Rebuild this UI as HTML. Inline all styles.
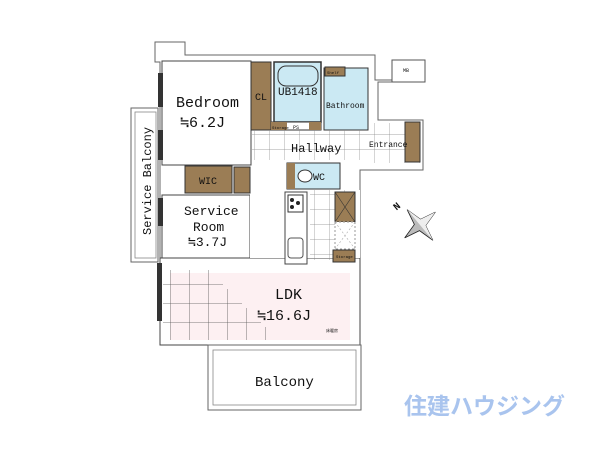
<!DOCTYPE html>
<html><head><meta charset="utf-8"><style>
html,body{margin:0;padding:0;background:#fff;width:600px;height:450px;overflow:hidden}
svg{display:block}
text{font-family:"Liberation Mono","DejaVu Sans Mono",monospace;fill:#111}
</style></head><body>
<svg width="600" height="450" viewBox="0 0 600 450" xmlns="http://www.w3.org/2000/svg">
<defs>
<pattern id="tile" width="15" height="15" patternUnits="userSpaceOnUse"><path d="M15 0V15H0" fill="none" stroke="#888" stroke-width="0.7"/></pattern>
<pattern id="tile2" width="19" height="19" patternUnits="userSpaceOnUse"><path d="M19 0V19H0" fill="none" stroke="#555" stroke-width="0.8"/></pattern>
</defs>
<path d="M155 42H185V55H375V80H392V60H425V82H378V120H423V170H360V345H208V345H160V62H155Z" fill="#fff" stroke="#666" stroke-width="1"/>
<rect x="131" y="108" width="27" height="154" fill="#fff" stroke="#666" stroke-width="1"/>
<rect x="135" y="112" width="21" height="146" fill="none" stroke="#888" stroke-width="0.8"/>
<text x="0" y="0" font-size="12" transform="translate(151,235) rotate(-90)">Service Balcony</text>
<rect x="162" y="61" width="89" height="104" fill="#fff" stroke="#444" stroke-width="1"/>
<rect x="162" y="195" width="88" height="63" fill="#fff" stroke="#444" stroke-width="1"/>
<rect x="160" y="258" width="200" height="87" fill="#fff" stroke="#444" stroke-width="1"/>
<rect x="170" y="273" width="180" height="67" fill="#fdf0f2"/>
<rect x="163" y="270" width="60" height="70" fill="url(#tile2)"/>
<rect x="223" y="289" width="19" height="51" fill="url(#tile2)"/>
<rect x="242" y="308" width="19" height="32" fill="url(#tile2)"/>
<rect x="261" y="327" width="19" height="13" fill="url(#tile2)"/>
<rect x="250" y="190" width="110" height="68" fill="#fff"/>
<rect x="310" y="190" width="40" height="70" fill="url(#tile)"/>
<rect x="285" y="192" width="22" height="72" fill="#fff" stroke="#444" stroke-width="1"/>
<rect x="288" y="195" width="15" height="17" fill="#fff" stroke="#333"/>
<circle cx="292" cy="200" r="2" fill="#222"/><circle cx="298" cy="203" r="2" fill="#222"/><circle cx="292" cy="207" r="2" fill="#222"/>
<rect x="288" y="238" width="15" height="20" rx="3" fill="#fff" stroke="#555"/>
<rect x="335" y="192" width="20" height="30" fill="#9b7d55" stroke="#333"/>
<path d="M335 192L355 222M355 192L335 222" stroke="#333" stroke-width="0.6"/>
<rect x="335" y="222" width="20" height="27" fill="#fff" stroke="#999" stroke-dasharray="2 2"/>
<path d="M335 222L355 249M355 222L335 249" stroke="#aaa" stroke-width="0.6" stroke-dasharray="2 2"/>
<rect x="333" y="250" width="22" height="12" fill="#9b7d55" stroke="#333"/>
<text x="336" y="258" font-size="4">Storage</text>
<text x="326" y="332" font-size="4">床暖房</text>
<rect x="251" y="62" width="20" height="68" fill="#9b7d55" stroke="#333"/>
<text x="255" y="100" font-size="10">CL</text>
<rect x="274" y="62" width="47" height="60" fill="#cbe9f3" stroke="#333" stroke-width="1.5"/>
<rect x="278" y="66" width="40" height="20" rx="8" fill="#cbe9f3" stroke="#333"/>
<text x="278" y="95" font-size="11">UB1418</text>
<rect x="324" y="68" width="44" height="62" fill="#cbe9f3" stroke="#333"/>
<rect x="325" y="67" width="20" height="9" fill="#9b7d55" stroke="#333"/>
<text x="327" y="74" font-size="4">Shelf</text>
<text x="326" y="108" font-size="8">Bathroom</text>
<rect x="271" y="122" width="50" height="8" fill="#fff" stroke="#333"/>
<rect x="271" y="122" width="16" height="8" fill="#9b7d55"/><rect x="309" y="122" width="12" height="8" fill="#9b7d55"/>
<text x="272" y="129" font-size="4">Storage</text><text x="293" y="129" font-size="5">PS</text>
<rect x="252" y="130" width="118" height="30" fill="url(#tile)"/>
<text x="291" y="152" font-size="12">Hallway</text>
<rect x="370" y="123" width="50" height="40" fill="url(#tile)"/>
<rect x="405" y="122" width="15" height="40" fill="#9b7d55" stroke="#333"/>
<text x="369" y="147" font-size="8">Entrance</text>
<rect x="392" y="60" width="33" height="22" fill="#fff" stroke="#555"/>
<text x="403" y="72" font-size="5">MB</text>
<rect x="185" y="166" width="47" height="27" fill="#9b7d55" stroke="#333"/>
<text x="199" y="184" font-size="10">WIC</text>
<rect x="234" y="167" width="16" height="26" fill="#9b7d55" stroke="#333"/>
<rect x="287" y="163" width="53" height="26" fill="#cbe9f3" stroke="#333"/>
<rect x="287" y="163" width="8" height="26" fill="#9b7d55"/>
<ellipse cx="305" cy="176" rx="7" ry="6" fill="#fff" stroke="#333"/>
<text x="313" y="180" font-size="10">WC</text>
<g fill="#333">
<rect x="158" y="73" width="5" height="34"/><rect x="158" y="130" width="5" height="30"/>
<rect x="158" y="198" width="5" height="28"/><rect x="157" y="263" width="5" height="58"/>
<rect x="233" y="347" width="94" height="5"/>
</g>
<rect x="208" y="345" width="153" height="65" fill="#fff" stroke="#666"/>
<rect x="213" y="350" width="143" height="55" fill="none" stroke="#888" stroke-width="0.8"/>
<text x="176" y="107" font-size="15">Bedroom</text>
<text x="180" y="127" font-size="15">≒6.2J</text>
<text x="184" y="215" font-size="13">Service</text>
<text x="193" y="231" font-size="13">Room</text>
<text x="188" y="246" font-size="13">≒3.7J</text>
<text x="275" y="299" font-size="15">LDK</text>
<text x="257" y="320" font-size="15">≒16.6J</text>
<text x="255" y="386" font-size="14">Balcony</text>
<g transform="translate(420,225) rotate(-40)">
<polygon points="0,-20 4,-4 20,0 4,4 0,20 -4,4 -20,0 -4,-4" fill="#bbb" stroke="#222" stroke-width="0.8"/>
<polygon points="0,-20 0,20 4,4 20,0 4,-4" fill="#eee"/>
</g>
<text x="393" y="209" font-size="10" font-weight="bold" transform="rotate(-40 397 205)">N</text>
<text x="404" y="414" font-size="23" font-weight="bold" style="font-family:'Noto Sans CJK JP',sans-serif;fill:#a9c4ee">住建ハウジング</text>
</svg>
</body></html>
